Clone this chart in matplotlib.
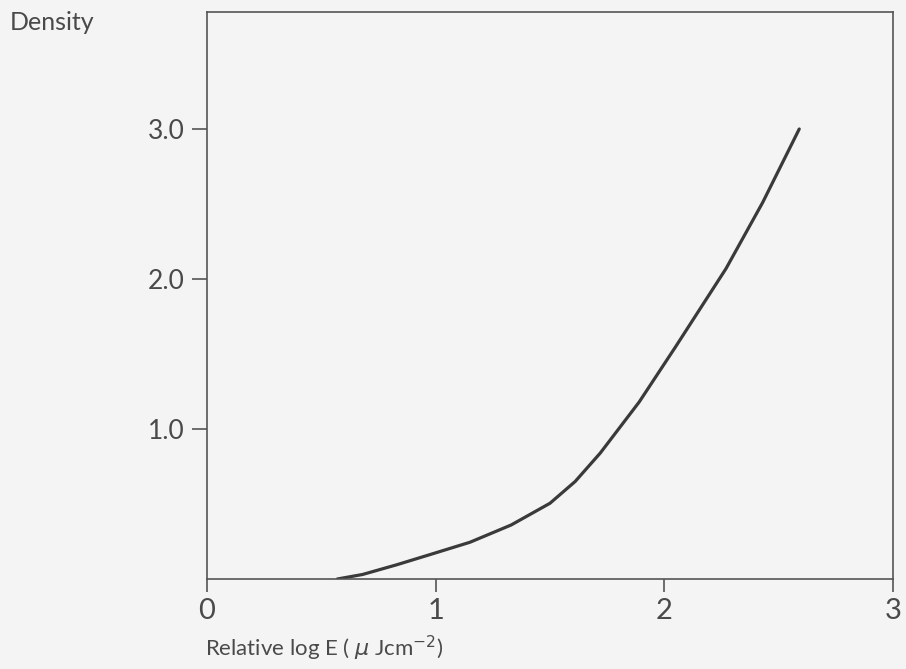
import matplotlib
matplotlib.use("Agg")
import matplotlib.pyplot as plt

# Data
log_e = [0.57, 0.68, 0.83, 0.98, 1.15, 1.33, 1.50, 1.61, 1.72, 1.89, 2.05, 2.27, 2.43, 2.59]
density = [0.0, 0.03, 0.095, 0.165, 0.245, 0.36, 0.505, 0.65, 0.84, 1.18, 1.55, 2.07, 2.51, 3.0]

x_ticks = [0, 1, 2, 3]
x_tick_labels = ["0", "1", "2", "3"]
y_ticks = [1.0, 2.0, 3.0]
y_tick_labels = ["1.0", "2.0", "3.0"]

plt.rcParams['font.family'] = ['Lato', 'DejaVu Sans']
text_col = '#4a4a4a'
bg = '#f4f4f4'

fig = plt.figure(figsize=(9.06, 6.69), dpi=100, facecolor=bg)
ax = fig.add_axes([207/906, 1 - 579/669, (893 - 207)/906, (579 - 12)/669])
ax.set_facecolor(bg)

ax.plot(log_e, density, color='#3a3a3a', lw=2.3, solid_capstyle='round',
        solid_joinstyle='round')

ax.set_xlim(0, 3)
ax.set_ylim(0, 3.78)
ax.set_xticks(x_ticks)
ax.set_xticklabels(x_tick_labels)
ax.set_yticks(y_ticks)
ax.set_yticklabels(y_tick_labels)

for s in ax.spines.values():
    s.set_color('#555555')
    s.set_linewidth(1.2)

ax.tick_params(axis='x', direction='out', length=9, width=1.2, color='#555555',
               labelsize=21, labelcolor=text_col, pad=5)
ax.tick_params(axis='y', direction='out', length=11, width=1.2, color='#555555',
               labelsize=19, labelcolor=text_col, pad=5)

fig.text(10/906, 1 - 22/669, "Density", fontsize=18, color=text_col,
         ha='left', va='center')
fig.text(205/906, 1 - 648/669, r"Relative log E ( $\mu$ Jcm$^{-2}$)", fontsize=16,
         color=text_col, ha='left', va='center')

fig.savefig("out.png", dpi=100, facecolor=bg)
